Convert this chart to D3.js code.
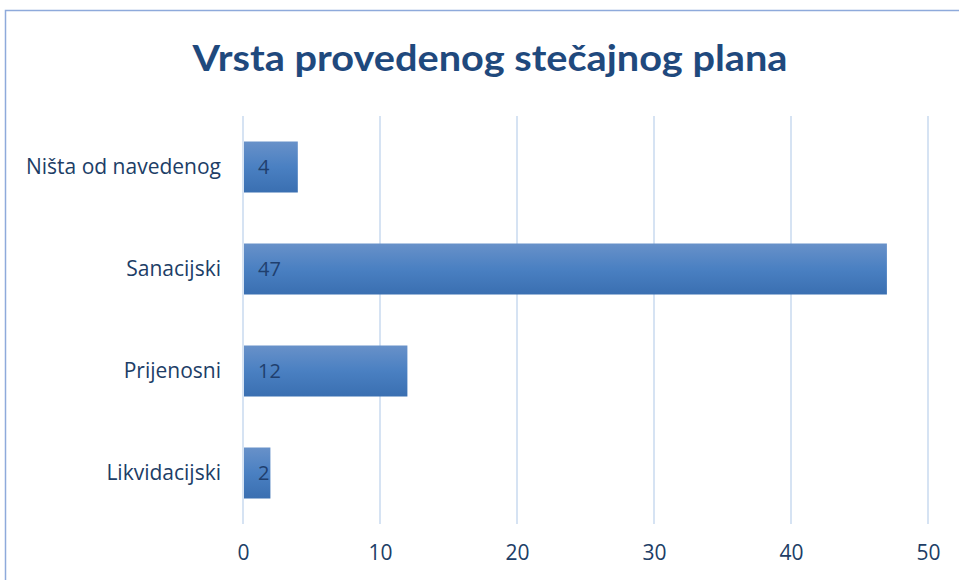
<!DOCTYPE html>
<html><head><meta charset="utf-8">
<script src="https://cdn.jsdelivr.net/npm/d3@7"></script>
<style>body{margin:0;background:#fff;} svg{display:block;}</style>
</head><body>
<svg id="c" width="959" height="580"></svg>
<script>
const categories = ["Ništa od navedenog", "Sanacijski", "Prijenosni", "Likvidacijski"];
const values = [4, 47, 12, 2];
const tickValues = [0, 10, 20, 30, 40, 50];
const title = "Vrsta provedenog stečajnog plana";

const svg = d3.select("#c");
const font = "'Open Sans', sans-serif";
const titleFont = "Lato, 'Open Sans', sans-serif";
const margin = {left: 243, right: 31, top: 116, bottom: 56};
const W = 959, H = 580;

const defs = svg.append("defs");
const g = defs.append("linearGradient").attr("id","bg").attr("x1",0).attr("y1",0).attr("x2",0).attr("y2",1);
g.append("stop").attr("offset","0%").attr("stop-color","#6891c9");
g.append("stop").attr("offset","50%").attr("stop-color","#4a80c2");
g.append("stop").attr("offset","100%").attr("stop-color","#3a6fb1");

// chart border
svg.append("rect").attr("x",5.5).attr("y",10.5).attr("width",1000).attr("height",700)
  .attr("fill","#fff").attr("stroke","#8eaadb").attr("stroke-width",1.5);

svg.append("text").attr("x",490).attr("y",71).attr("text-anchor","middle")
  .attr("font-family",titleFont).attr("font-weight","bold").attr("font-size",37)
  .attr("fill","#1f497d").attr("textLength",595).attr("lengthAdjust","spacingAndGlyphs")
  .text(title);

const x = d3.scaleLinear().domain([0,50]).range([margin.left, W - margin.right]);
const y = d3.scaleBand().domain(categories).range([margin.top, H - margin.bottom]).paddingInner(0.5).paddingOuter(0.25);

// gridlines
svg.append("g").selectAll("line").data(tickValues).join("line")
  .attr("x1",d=>x(d)).attr("x2",d=>x(d)).attr("y1",margin.top).attr("y2",H - margin.bottom)
  .attr("stroke","#d6e3f3").attr("stroke-width",2);

// bars
svg.append("g").selectAll("rect").data(values).join("rect")
  .attr("x",x(0)+1).attr("y",(d,i)=>y(categories[i]))
  .attr("width",d=>x(d)-x(0)-1).attr("height",y.bandwidth())
  .attr("fill","url(#bg)");

// value labels
svg.append("g").selectAll("text").data(values).join("text")
  .attr("x",x(0)+15).attr("y",(d,i)=>y(categories[i])+y.bandwidth()/2)
  .attr("dy","0.35em").attr("font-family",font).attr("font-size",20)
  .attr("fill","#1f3f6e").text(d=>d);

// y axis
const ya = svg.append("g").attr("transform",`translate(${x(0)-22},0)`)
  .call(d3.axisLeft(y).tickSize(0).tickPadding(0));
ya.select(".domain").remove();
ya.selectAll("text").attr("font-family",font).attr("font-size",21).attr("fill","#203d66");

// x axis
const xa = svg.append("g").attr("transform",`translate(0,${H - margin.bottom})`)
  .call(d3.axisBottom(x).tickValues(tickValues).tickSize(0).tickPadding(21));
xa.select(".domain").remove();
xa.selectAll("text").attr("font-family",font).attr("font-size",21).attr("fill","#203d66");
</script>
</body></html>
